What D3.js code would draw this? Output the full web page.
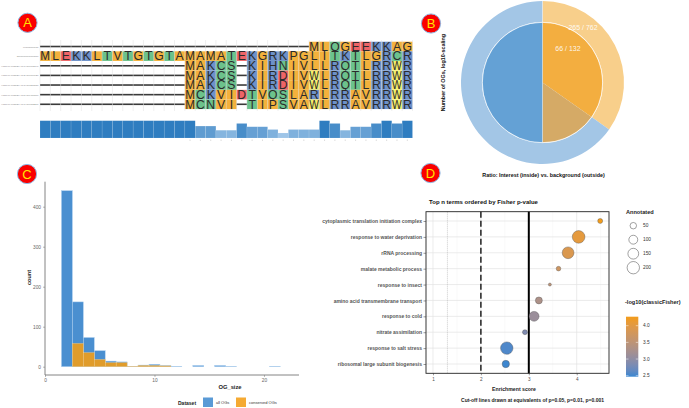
<!DOCTYPE html>
<html>
<head>
<meta charset="utf-8">
<script src="https://cdn.jsdelivr.net/npm/d3@7"></script>
<style>
body { margin: 0; background: #fff; }
text { font-family: "Liberation Sans", Arial, sans-serif; }
</style>
</head>
<body>
<div id="chart"></div>
<script>
const W = 689, H = 408

// ---------- data: panel A (alignment)
const seqNames = ["evalcg000130", "Zm00001eb000810", "HORVU.MOREX.r3.1HG0012340",
  "HORVU.MOREX.r3.2HG0106120", "HORVU.MOREX.r3.3HG0231580", "HORVU.MOREX.r3.5HG0451860", "HORVU.MOREX.r3.7HG0652200"]
const seqs = [
  "--------------------------MLQGEEKKAG",
  "MLEKKLTVTGTGTAMAMATEKGRKPGLITKTLGRCR",
  "--------------MAKCS-KIHNIVLLRQTLRRWR",
  "--------------MAKCS-KIRDIVWLRQTLRRWR",
  "--------------MAKCS-KIRDIVWLRQTLRRWR",
  "--------------MCKVIDTVQSLARLRRAVRRWR",
  "--------------MCNVI-TIPSVAWLRRAVRRWR"
]
const conservation = [1,1,1,1,1,1,1,1,1,1,1,1,1,1,1,
  0.69,0.69,0.45,0.45,0.84,0.65,0.65,0.49,0.29,0.49,0.49,0.49,1,0.84,0.45,0.65,0.65,0.84,1,0.84,1]

// ---------- data: panel B (donut)
const innerCounts = { interest: 66, total: 132 }
const outerCounts = { interest: 265, total: 762 }

// ---------- data: panel C (histogram)
const ogSizes = [2,3,4,5,6,7,8,9,10,11,12,13,14,15,16,17,18,19,20,21]
const allOGs = [440,162,73,40,14,12,1,4,6,3,1,0,3,0,3,1,0,0,0,1]
const conservedOGs = [0,58,35,18,10,10,1,3,3,2,0,0,0,0,0,0,0,0,0,0]
const xTicksC = [0, 10, 20]
const yTicksC = [0, 100, 200, 300, 400]

// ---------- data: panel D (GO enrichment)
const terms = ["cytoplasmic translation initiation complex", "response to water deprivation", "rRNA processing",
  "malate metabolic process", "response to insect", "amino acid transmembrane transport", "response to cold",
  "nitrate assimilation", "response to salt stress", "ribosomal large subunit biogenesis"]
const enrichment = [4.49, 4.04, 3.82, 3.62, 3.44, 3.21, 3.11, 2.92, 2.54, 2.52]
const annotated = [27, 210, 180, 22, 6, 59, 126, 27, 203, 66]
const logP = [4.27, 4.05, 3.9, 3.72, 3.5, 3.3, 3.1, 2.85, 2.55, 2.48]
const cutoffs = [1.301, 2, 3]
const sizeLegend = [50, 100, 150, 200]
const colorTicks = [2.5, 3.0, 3.5, 4.0]

const svg = d3.select("#chart").append("svg")
  .attr("width", W)
  .attr("height", H)

// panel letters
const letters = [["A", 27.5, 22.8], ["B", 431, 23.5], ["C", 27, 174], ["D", 430.5, 173]]
letters.forEach(([t, cx, cy]) => {
  svg.append("circle").attr("cx", cx).attr("cy", cy).attr("r", 9.6)
    .attr("fill", "#fa0000").attr("stroke", "#8fb8e4").attr("stroke-width", 1)
  svg.append("text").attr("x", cx).attr("y", cy + 4.6).attr("text-anchor", "middle")
    .attr("font-size", 13).attr("fill", "#ffe600").text(t)
})

// ================= panel A =================
const aa = {
  A: "#f3b13c", I: "#f3b13c", L: "#f3b13c", M: "#f3b13c", V: "#f3b13c", F: "#f3b13c", P: "#f3b13c", G: "#f3b13c",
  K: "#6d91c9", R: "#6d91c9", H: "#6d91c9",
  D: "#ee6467", E: "#ee6467",
  S: "#6cc28c", T: "#6cc28c", N: "#6cc28c", Q: "#6cc28c", C: "#6cc28c",
  W: "#f5ee6a"
}
const nCol = seqs[0].length
const xA = d3.scaleBand().domain(d3.range(nCol)).range([40, 412.5])
const yA = d3.scaleBand().domain(d3.range(seqs.length)).range([41.7, 109.1])
const gA = svg.append("g")

seqs.forEach((s, r) => {
  s.split("").forEach((ch, c) => {
    if (ch === "-") {
      gA.append("line")
        .attr("x1", xA(c)).attr("x2", xA(c) + xA.bandwidth())
        .attr("y1", yA(r) + yA.bandwidth() / 2).attr("y2", yA(r) + yA.bandwidth() / 2)
        .attr("stroke", "#3a3a3a").attr("stroke-width", 1.6)
    } else {
      gA.append("rect").attr("x", xA(c)).attr("y", yA(r))
        .attr("width", xA.bandwidth()).attr("height", yA.bandwidth())
        .attr("fill", aa[ch] || "#ddd")
      const t = gA.append("text").attr("x", xA(c) + xA.bandwidth() / 2).attr("y", yA(r) + yA.bandwidth() - 0.6)
        .attr("text-anchor", "middle").attr("font-size", 12.2).attr("fill", "#2b2b2b").text(ch)
      const maxW = xA.bandwidth() * 0.94
      if (t.node().getComputedTextLength() > maxW) {
        t.attr("textLength", maxW).attr("lengthAdjust", "spacingAndGlyphs")
      }
    }
  })
  gA.append("text").attr("x", 38.5).attr("y", yA(r) + yA.bandwidth() / 2 + 1)
    .attr("text-anchor", "end").attr("font-size", 2.5).attr("fill", "#888").text(seqNames[r])
})
// column grid
d3.range(nCol + 1).forEach(c => {
  const x = c < nCol ? xA(c) : xA(nCol - 1) + xA.bandwidth()
  gA.append("line").attr("x1", x).attr("x2", x).attr("y1", 40).attr("y2", 111)
    .attr("stroke", "#d8d8d8").attr("stroke-width", 0.4)
})

// conservation bars
const yCons = d3.scaleLinear().domain([0, 1]).range([138, 120.7])
const consColor = d3.scaleLinear().domain([0.25, 1]).range(["#a4c9ea", "#2f7dc0"])
gA.selectAll(".cons").data(conservation).enter().append("rect")
  .attr("x", (d, i) => xA(i)).attr("width", xA.bandwidth())
  .attr("y", d => yCons(d)).attr("height", d => yCons(0) - yCons(d))
  .attr("fill", d => consColor(d))
  .attr("stroke", "#ffffff").attr("stroke-opacity", 0.25).attr("stroke-width", 0.4)
gA.selectAll(".ctick").data(d3.range(14, nCol)).enter().append("line")
  .attr("x1", d => xA(d) + xA.bandwidth() / 2).attr("x2", d => xA(d) + xA.bandwidth() / 2)
  .attr("y1", 139.5).attr("y2", 141).attr("stroke", "#aaa").attr("stroke-width", 0.4)

// ================= panel B =================
const cxB = 542.5, cyB = 82.5
const gB = svg.append("g").attr("transform", `translate(${cxB},${cyB})`)
const angle = d3.scaleLinear().domain([0, 1]).range([0, 2 * Math.PI])
const outerFrac = outerCounts.interest / outerCounts.total
const innerFrac = innerCounts.interest / innerCounts.total
const outerArc = d3.arc().innerRadius(60.5).outerRadius(81.5)
const innerArc = d3.arc().innerRadius(0).outerRadius(60)
gB.append("path").attr("d", outerArc({ startAngle: angle(0), endAngle: angle(outerFrac) })).attr("fill", "#f8cf8b")
gB.append("path").attr("d", outerArc({ startAngle: angle(outerFrac), endAngle: angle(1) })).attr("fill", "#a3c6e6")
gB.append("path").attr("d", innerArc({ startAngle: angle(0), endAngle: angle(Math.min(innerFrac, outerFrac)) })).attr("fill", "#f3ae40")
gB.append("path").attr("d", innerArc({ startAngle: angle(Math.min(innerFrac, outerFrac)), endAngle: angle(Math.max(innerFrac, outerFrac)) })).attr("fill", "#d5aa66")
gB.append("path").attr("d", innerArc({ startAngle: angle(innerFrac), endAngle: angle(1) })).attr("fill", "#64a1d5")
gB.append("circle").attr("r", 60.2).attr("fill", "none").attr("stroke", "#fff").attr("stroke-width", 0.8).attr("stroke-opacity", 0.7)
gB.append("line").attr("x1", 0).attr("x2", 0).attr("y1", -81.5).attr("y2", 60).attr("stroke", "#fff").attr("stroke-width", 0.6).attr("stroke-opacity", 0.6)
gB.append("text").attr("x", 40.5).attr("y", -53).attr("text-anchor", "middle").attr("font-size", 7)
  .attr("fill", "#fff").attr("fill-opacity", 0.9).text(`${outerCounts.interest} / ${outerCounts.total}`)
gB.append("text").attr("x", 25.5).attr("y", -32).attr("text-anchor", "middle").attr("font-size", 7)
  .attr("fill", "#fff").attr("fill-opacity", 0.9).text(`${innerCounts.interest} / ${innerCounts.total}`)
svg.append("text").attr("transform", "translate(444.5,72.5) rotate(-90)").attr("text-anchor", "middle")
  .attr("font-size", 5.4).attr("font-weight", "bold").attr("fill", "#111").text("Number of OGs, log10-scaling")
svg.append("text").attr("x", 543.5).attr("y", 176.5).attr("text-anchor", "middle")
  .attr("font-size", 5.4).attr("font-weight", "bold").attr("fill", "#111").text("Ratio: Interest (inside) vs. background (outside)")

// ================= panel C =================
const xC = d3.scaleLinear().domain([0, 23.2]).range([45, 299])
const yC = d3.scaleLinear().domain([0, 400]).range([366.7, 206.7])
const gC = svg.append("g")
gC.selectAll(".allbar").data(ogSizes).enter().append("rect")
  .attr("x", d => xC(d - 0.5)).attr("width", xC(1) - xC(0))
  .attr("y", (d, i) => yC(allOGs[i])).attr("height", (d, i) => yC(0) - yC(allOGs[i]))
  .attr("fill", "#4a8fd0").attr("stroke", "#aed0ef").attr("stroke-width", 0.5)
  .attr("display", (d, i) => allOGs[i] > 0 ? null : "none")
gC.selectAll(".conbar").data(ogSizes).enter().append("rect")
  .attr("x", d => xC(d - 0.5)).attr("width", xC(1) - xC(0))
  .attr("y", (d, i) => yC(conservedOGs[i])).attr("height", (d, i) => yC(0) - yC(conservedOGs[i]))
  .attr("fill", "#e89d22").attr("fill-opacity", 0.95).attr("stroke", "#f7d08e").attr("stroke-width", 0.4)
  .attr("display", (d, i) => conservedOGs[i] > 0 ? null : "none")

const xAxisC = gC.append("g").attr("transform", "translate(0,375)")
  .call(d3.axisBottom(xC).tickValues(xTicksC).tickSize(2).tickPadding(2))
const yAxisC = gC.append("g").attr("transform", "translate(45,0)")
  .call(d3.axisLeft(yC).tickValues(yTicksC).tickSize(2).tickPadding(2))
;[xAxisC, yAxisC].forEach(ax => {
  ax.select(".domain").remove()
  ax.selectAll("line").attr("stroke", "#777").attr("stroke-width", 0.5)
  ax.selectAll("text").attr("font-size", 4.8).attr("fill", "#666").attr("font-family", "Liberation Sans, Arial, sans-serif")
})
gC.append("line").attr("x1", 45).attr("x2", 45).attr("y1", 181.7).attr("y2", 375).attr("stroke", "#666").attr("stroke-width", 0.8)
gC.append("line").attr("x1", 45).attr("x2", 299).attr("y1", 375).attr("y2", 375).attr("stroke", "#666").attr("stroke-width", 0.8)
gC.append("text").attr("x", 230).attr("y", 388.5).attr("text-anchor", "middle")
  .attr("font-size", 5.8).attr("font-weight", "bold").attr("fill", "#222").text("OG_size")
gC.append("text").attr("transform", "translate(31,277.5) rotate(-90)").attr("text-anchor", "middle")
  .attr("font-size", 5.6).attr("font-weight", "bold").attr("fill", "#222").text("count")
// legend
gC.append("text").attr("x", 178).attr("y", 404.5).attr("font-size", 5).attr("font-weight", "bold").attr("fill", "#222").text("Dataset")
gC.append("rect").attr("x", 203).attr("y", 397.5).attr("width", 10).attr("height", 9.5).attr("fill", "#5a9ad6")
gC.append("text").attr("x", 216).attr("y", 404).attr("font-size", 4).attr("fill", "#333").text("all OGs")
gC.append("rect").attr("x", 236).attr("y", 397.5).attr("width", 10).attr("height", 9.5).attr("fill", "#f5aa33")
gC.append("text").attr("x", 249).attr("y", 404).attr("font-size", 4).attr("fill", "#333").text("conserved OGs")

// ================= panel D =================
const pLeft = 426, pRight = 609, pTop = 211.7, pBottom = 373.3
const xD = d3.scaleLinear().domain([0.854, 4.674]).range([pLeft, pRight])
const yD = d3.scalePoint().domain(terms).range([221, 364])
const sizeD = d3.scaleLinear().domain([0, 220]).range([1.2, 42])
const rD = a => Math.sqrt(sizeD(a))
const colD = d3.scaleLinear().domain([2.47, 4.27]).range(["#3a87d1", "#f39c1a"]).interpolate(d3.interpolateLab)
const gD = svg.append("g")

gD.append("rect").attr("x", pLeft).attr("y", pTop).attr("width", pRight - pLeft).attr("height", pBottom - pTop).attr("fill", "#fff")
;[1.5, 2.5, 3.5, 4.5].forEach(v => gD.append("line").attr("x1", xD(v)).attr("x2", xD(v)).attr("y1", pTop).attr("y2", pBottom)
  .attr("stroke", "#f0f0f0").attr("stroke-width", 0.4))
;[1, 2, 3, 4].forEach(v => gD.append("line").attr("x1", xD(v)).attr("x2", xD(v)).attr("y1", pTop).attr("y2", pBottom)
  .attr("stroke", "#e2e2e2").attr("stroke-width", 0.7))
terms.forEach(t => gD.append("line").attr("x1", pLeft).attr("x2", pRight).attr("y1", yD(t)).attr("y2", yD(t))
  .attr("stroke", "#e2e2e2").attr("stroke-width", 0.7))

gD.append("line").attr("x1", xD(cutoffs[0])).attr("x2", xD(cutoffs[0])).attr("y1", pTop).attr("y2", pBottom)
  .attr("stroke", "#aaa").attr("stroke-width", 0.6).attr("stroke-dasharray", "1,1")
gD.append("line").attr("x1", xD(cutoffs[1])).attr("x2", xD(cutoffs[1])).attr("y1", pTop).attr("y2", pBottom)
  .attr("stroke", "#000").attr("stroke-width", 1.3).attr("stroke-dasharray", "6,3")
gD.append("line").attr("x1", xD(cutoffs[2])).attr("x2", xD(cutoffs[2])).attr("y1", pTop).attr("y2", pBottom)
  .attr("stroke", "#000").attr("stroke-width", 2)

gD.selectAll(".dot").data(terms).enter().append("circle")
  .attr("cx", (d, i) => xD(enrichment[i])).attr("cy", d => yD(d))
  .attr("r", (d, i) => rD(annotated[i]))
  .attr("fill", (d, i) => colD(logP[i]))
  .attr("stroke", "#555").attr("stroke-width", 0.4)

gD.append("rect").attr("x", pLeft).attr("y", pTop).attr("width", pRight - pLeft).attr("height", pBottom - pTop)
  .attr("fill", "none").attr("stroke", "#222").attr("stroke-width", 0.9)

const xAxisD = gD.append("g").attr("transform", `translate(0,${pBottom})`)
  .call(d3.axisBottom(xD).tickValues([1, 2, 3, 4]).tickFormat(d3.format("d")).tickSize(2).tickPadding(2))
const yAxisD = gD.append("g").attr("transform", `translate(${pLeft},0)`)
  .call(d3.axisLeft(yD).tickSize(2.5).tickPadding(1.5))
;[xAxisD, yAxisD].forEach(ax => {
  ax.select(".domain").remove()
  ax.selectAll("line").attr("stroke", "#333").attr("stroke-width", 0.5)
  ax.selectAll("text").attr("font-family", "Liberation Sans, Arial, sans-serif").attr("fill", "#4d4d4d")
})
xAxisD.selectAll("text").attr("font-size", 4.6)
yAxisD.selectAll("text").attr("font-size", 5).attr("font-weight", "bold").attr("fill", "#555")

gD.append("text").attr("x", 483.5).attr("y", 204).attr("text-anchor", "middle")
  .attr("font-size", 6).attr("font-weight", "bold").attr("fill", "#111").text("Top n terms ordered by Fisher p-value")
gD.append("text").attr("x", 514).attr("y", 390.5).attr("text-anchor", "middle")
  .attr("font-size", 5.2).attr("font-weight", "bold").attr("fill", "#222").text("Enrichment score")
gD.append("text").attr("x", 532.5).attr("y", 401.5).attr("text-anchor", "middle")
  .attr("font-size", 5).attr("font-weight", "bold").attr("fill", "#222").text("Cut-off lines drawn at equivalents of p=0.05, p=0.01, p=0.001")

// size legend
gD.append("text").attr("x", 626).attr("y", 214).attr("font-size", 5.6).attr("font-weight", "bold").attr("fill", "#222").text("Annotated")
const sizeY = d3.scalePoint().domain(sizeLegend).range([225.7, 267.7])
sizeLegend.forEach(v => {
  gD.append("circle").attr("cx", 633.3).attr("cy", sizeY(v)).attr("r", rD(v))
    .attr("fill", "#fff").attr("stroke", "#444").attr("stroke-width", 0.5)
  gD.append("text").attr("x", 643).attr("y", sizeY(v) + 1.7).attr("font-size", 4.8).attr("fill", "#333").text(v)
})

// colour legend
gD.append("text").attr("x", 625).attr("y", 304).attr("font-size", 5.6).attr("font-weight", "bold").attr("fill", "#222").text("-log10(classicFisher)")
const grad = svg.append("defs").append("linearGradient").attr("id", "cbar").attr("x1", 0).attr("x2", 0).attr("y1", 1).attr("y2", 0)
d3.range(0, 1.01, 0.1).forEach(t => {
  grad.append("stop").attr("offset", t).attr("stop-color", colD(2.47 + t * (4.27 - 2.47)))
})
const yCbar = d3.scaleLinear().domain([2.47, 4.27]).range([376.7, 316.7])
gD.append("rect").attr("x", 626).attr("y", yCbar(4.27)).attr("width", 12.3).attr("height", yCbar(2.47) - yCbar(4.27))
  .attr("fill", "url(#cbar)")
colorTicks.forEach(v => {
  gD.append("line").attr("x1", 626).attr("x2", 628.5).attr("y1", yCbar(v)).attr("y2", yCbar(v)).attr("stroke", "#fff").attr("stroke-width", 0.5)
  gD.append("line").attr("x1", 635.8).attr("x2", 638.3).attr("y1", yCbar(v)).attr("y2", yCbar(v)).attr("stroke", "#fff").attr("stroke-width", 0.5)
  gD.append("text").attr("x", 643).attr("y", yCbar(v) + 1.7).attr("font-size", 4.8).attr("fill", "#333").text(d3.format(".1f")(v))
})
</script>
</body>
</html>
